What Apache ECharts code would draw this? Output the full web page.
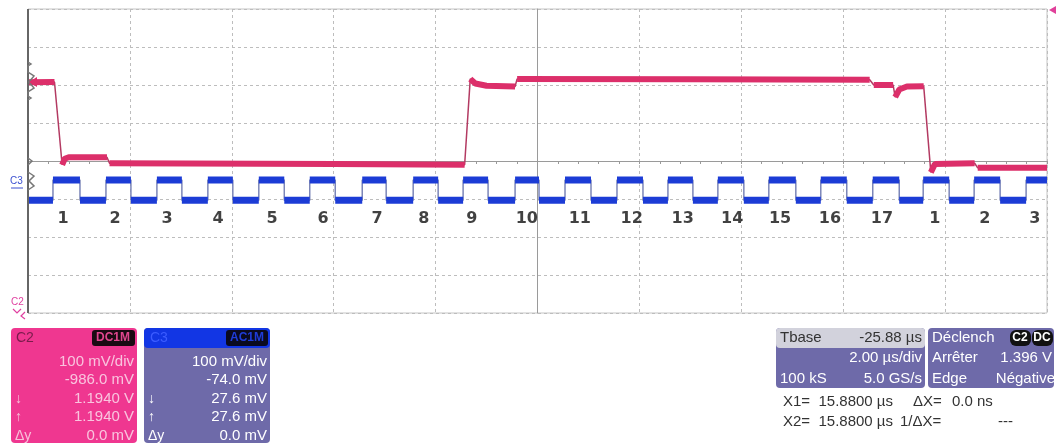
<!DOCTYPE html>
<html>
<head>
<meta charset="utf-8">
<script src="https://cdn.jsdelivr.net/npm/echarts@6/dist/echarts.min.js"></script>
<style>
  html, body { margin: 0; padding: 0; background: #fff; }
  #main-scope { width: 1058px; height: 446px; }
</style>
</head>
<body>
<div id="main-scope"></div>
<script>
// time axis in µs (2 µs/div, 10 div), volts axis in divisions (100 mV/div)
// C2 (red) plateaus, edges drawn thin between them
const redSegs = [
  [[-10, 2.07], [-9.48, 2.08]],
  [[-9.33, -0.1], [-9.28, 0.06], [-9.2, 0.1], [-8.45, 0.1]],
  [[-8.4, -0.06], [-4, -0.08], [-1.43, -0.1]],
  [[-1.32, 2.16], [-1.22, 2.04], [-1.0, 1.98], [-0.44, 1.96]],
  [[-0.4, 2.16], [3, 2.15], [6.52, 2.14]],
  [[6.6, 2.0], [6.98, 2.0]],
  [[7.02, 1.68], [7.1, 1.88], [7.25, 1.96], [7.58, 1.97]],
  [[7.72, -0.3], [7.8, -0.08], [8.58, -0.06]],
  [[8.64, -0.18], [10, -0.18]]
];

// C3 (blue) square wave edges
const blueRise = [-9.51, -8.47, -7.47, -6.47, -5.47, -4.47, -3.44, -2.44, -1.46, -0.44,
  0.54, 1.56, 2.56, 3.54, 4.54, 5.56, 6.58, 7.57, 8.57, 9.59];
const blueFall = [-8.98, -7.98, -6.98, -5.98, -4.97, -3.97, -2.97, -1.95, -0.97, 0.03,
  1.05, 2.07, 3.05, 4.05, 5.07, 6.07, 7.10, 8.08, 9.08];
const blueHigh = -0.5;
const blueLow = -1.03;

// black numbers written under the blue trace
const pulseNames = ['1', '2', '3', '4', '5', '6', '7', '8', '9', '10', '11', '12', '13', '14', '15', '16', '17', '1', '2', '3'];
const pulsePos = [-9.31, -8.29, -7.27, -6.27, -5.21, -4.21, -3.15, -2.23, -1.29, -0.21,
  0.83, 1.85, 2.85, 3.82, 4.76, 5.74, 6.76, 7.80, 8.78, 9.76];
const pulseRow = -1.53;

// build line data
var redThick = [];
var redThin = [];
redSegs.forEach(seg => {
  seg.forEach(p => { redThick.push(p); redThin.push(p); });
  redThick.push([seg[seg.length - 1][0], '-']);
});

var edges = [];
blueRise.forEach(t => edges.push([t, blueHigh]));
blueFall.forEach(t => edges.push([t, blueLow]));
edges.sort((a, b) => a[0] - b[0]);
var blueThick = [];
var blueThin = [];
var level = blueLow;
var start = -10;
edges.forEach(e => {
  blueThick.push([start, level], [e[0], level], [e[0], '-']);
  blueThin.push([start, level], [e[0], level]);
  start = e[0];
  level = e[1];
});
blueThick.push([start, level], [10, level]);
blueThin.push([start, level], [10, level]);

var labelData = pulsePos.map(t => [t, pulseRow]);

var myChart = echarts.init(document.querySelector("#main-scope"));

var font = "'Liberation Sans', Arial, sans-serif";
function txt(x, y, s, color, align, size, weight) {
  return {
    type: 'text', x: x, y: y, z: 20,
    style: { text: s, fill: color, font: (weight || 'normal') + ' ' + (size || 15) + 'px ' + font,
      textAlign: align || 'left', textVerticalAlign: 'middle' }
  };
}
function box(x, y, w, h, color, r) {
  return { type: 'rect', z: 10, shape: { x: x, y: y, width: w, height: h, r: r || 3 },
    style: { fill: color, stroke: null } };
}

var c2Rows = ['100 mV/div', '-986.0 mV', '1.1940 V', '1.1940 V', '0.0 mV'];
var c3Rows = ['100 mV/div', '-74.0 mV', '27.6 mV', '27.6 mV', '0.0 mV'];
var rowY = [362, 380, 399, 417, 436];

var graphics = [
  // C2 panel
  box(11, 328, 126, 115, '#ef3790', 4),
  txt(16, 338, 'C2', '#7a1c4c', 'left', 14),
  box(92, 330, 43, 16, '#1a0a12', 3),
  txt(113, 338, 'DC1M', '#e0468e', 'center', 12, 'bold'),
  // C3 panel
  box(144, 328, 126, 115, '#6e6aa9', 4),
  box(144, 328, 126, 20, '#1236e4', 4),
  txt(150, 338, 'C3', '#3b5cff', 'left', 14),
  box(226, 330, 42, 16, '#0a0a20', 3),
  txt(247, 338, 'AC1M', '#1f3cd8', 'center', 12, 'bold'),
  txt(15, 399, '↓', '#f8c0da', 'left', 14),
  txt(15, 417, '↑', '#f8c0da', 'left', 14),
  txt(15, 436, 'Δy', '#f8c0da', 'left', 14),
  txt(148, 399, '↓', '#ffffff', 'left', 14),
  txt(148, 417, '↑', '#ffffff', 'left', 14),
  txt(148, 436, 'Δy', '#ffffff', 'left', 14),
  // Tbase panel
  box(776, 328, 149, 60, '#6e6aa9', 4),
  box(776, 328, 149, 20, '#d2d2dc', 4),
  txt(780, 338, 'Tbase', '#333', 'left', 15),
  txt(922, 338, '-25.88 µs', '#333', 'right', 15),
  txt(922, 358, '2.00 µs/div', '#fff', 'right', 15),
  txt(780, 379, '100 kS', '#fff', 'left', 15),
  txt(922, 379, '5.0 GS/s', '#fff', 'right', 15),
  // trigger panel
  box(928, 328, 126, 60, '#6e6aa9', 4),
  txt(932, 338, 'Déclench', '#fff', 'left', 15),
  box(1010, 330, 21, 16, '#111', 6),
  txt(1020, 338, 'C2', '#fff', 'center', 12, 'bold'),
  box(1032, 330, 21, 16, '#111', 6),
  txt(1042, 338, 'DC', '#fff', 'center', 12, 'bold'),
  txt(932, 358, 'Arrêter', '#fff', 'left', 15),
  txt(1052, 358, '1.396 V', '#fff', 'right', 15),
  txt(932, 379, 'Edge', '#fff', 'left', 15),
  txt(1055, 379, 'Négative', '#fff', 'right', 15),
  // cursors
  txt(783, 402, 'X1=  15.8800 µs', '#333', 'left', 15),
  txt(913, 402, 'ΔX=', '#333', 'left', 15),
  txt(952, 402, '0.0 ns', '#333', 'left', 15),
  txt(783, 422, 'X2=  15.8800 µs', '#333', 'left', 15),
  txt(900, 422, '1/ΔX=', '#333', 'left', 15),
  txt(998, 422, '---', '#333', 'left', 15),
  // channel markers on the left
  txt(10, 181, 'C3', '#3a4fd0', 'left', 10),
  { type: 'line', z: 20, shape: { x1: 11, y1: 188, x2: 23, y2: 188 }, style: { stroke: '#3a4fd0', lineWidth: 1 } },
  { type: 'polyline', z: 20, shape: { points: [[28, 172], [34, 176], [29, 181], [34, 186], [28, 190]] },
    style: { stroke: '#777', lineWidth: 1.5, fill: null } },
  { type: 'polyline', z: 20, shape: { points: [[28, 62], [31, 64], [28, 66], [28, 72], [34, 76], [29, 82], [34, 88], [28, 92], [28, 96], [31, 98], [28, 100]] },
    style: { stroke: '#777', lineWidth: 1.5, fill: null } },
  { type: 'polygon', z: 21, shape: { points: [[29, 82], [37, 77], [37, 87]] }, style: { fill: '#dc2f6a' } },
  { type: 'polyline', z: 20, shape: { points: [[28, 158], [32, 161], [28, 165]] }, style: { stroke: '#777', lineWidth: 1.5, fill: null } },
  txt(11, 302, 'C2', '#e040a0', 'left', 10),
  { type: 'polyline', z: 20, shape: { points: [[13, 309], [17, 313], [21, 309]] }, style: { stroke: '#e040a0', lineWidth: 1.2, fill: null } },
  { type: 'polyline', z: 20, shape: { points: [[25, 312], [21, 316], [25, 319]] }, style: { stroke: '#e040a0', lineWidth: 1.2, fill: null } },
  { type: 'polygon', z: 20, shape: { points: [[1049, 10], [1056, 6], [1056, 14]] }, style: { fill: '#e0409a' } }
];
c2Rows.forEach((s, i) => graphics.push(txt(134, rowY[i], s, '#f9c4de', 'right', 15)));
c3Rows.forEach((s, i) => graphics.push(txt(267, rowY[i], s, '#ffffff', 'right', 15)));

var dashed = { color: '#bdbdbd', width: 1, type: [3, 3] };

var option = {
  animation: false,
  backgroundColor: '#fff',
  grid: { left: 28, top: 9, width: 1019, height: 304, show: true, borderColor: '#c4c4c4', borderWidth: 1 },
  xAxis: {
    type: 'value', min: -10, max: 10, interval: 2,
    axisLine: { onZero: true, lineStyle: { color: '#9a9a9a', width: 1 } },
    axisTick: { show: true, length: 3, lineStyle: { color: '#9a9a9a' } },
    minorTick: { show: true, splitNumber: 5, length: 3, lineStyle: { color: '#9a9a9a' } },
    axisLabel: { show: false },
    splitLine: { show: true, lineStyle: dashed }
  },
  yAxis: {
    type: 'value', min: -4, max: 4, interval: 1,
    axisLine: { onZero: true, lineStyle: { color: '#9a9a9a', width: 1 } },
    axisTick: { show: false },
    axisLabel: { show: false },
    splitLine: { show: true, lineStyle: dashed }
  },
  graphic: graphics,
  series: [
    {
      name: 'C2 edge', type: 'line', data: redThin, showSymbol: false, z: 3,
      lineStyle: { color: '#b33a62', width: 1.5 },
      markLine: {
        silent: true, symbol: 'none', label: { show: false },
        lineStyle: { color: '#666', width: 2, type: 'solid' },
        data: [{ xAxis: -10 }]
      }
    },
    {
      name: 'C2', type: 'line', data: redThick, showSymbol: false, connectNulls: false, z: 4,
      lineStyle: { color: '#dc2f6a', width: 6 }
    },
    {
      name: 'C3 edge', type: 'line', data: blueThin, showSymbol: false, z: 3,
      lineStyle: { color: '#7c86b8', width: 1.5 }
    },
    {
      name: 'C3', type: 'line', data: blueThick, showSymbol: false, connectNulls: false, z: 4,
      lineStyle: { color: '#1c3cd6', width: 7 }
    },
    {
      name: 'pulses', type: 'scatter', data: labelData, symbolSize: 1, z: 5,
      itemStyle: { color: 'rgba(0,0,0,0)' },
      label: {
        show: true, position: 'inside', color: '#111',
        fontFamily: "'DejaVu Sans', sans-serif", fontWeight: 'bold', fontSize: 16,
        formatter: p => pulseNames[p.dataIndex]
      }
    }
  ]
};
myChart.setOption(option);
</script>
</body>
</html>
